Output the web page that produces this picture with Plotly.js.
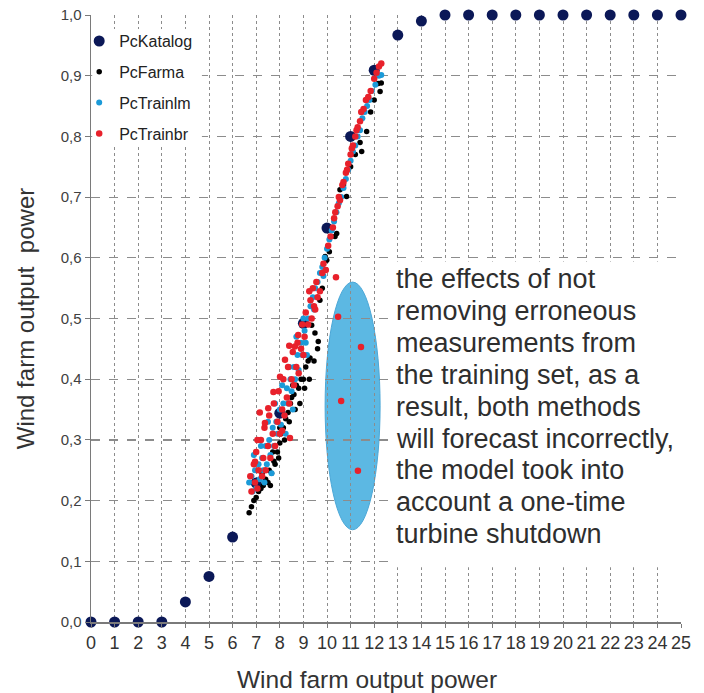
<!DOCTYPE html>
<html>
<head>
<meta charset="utf-8">
<script src="https://cdn.plot.ly/plotly-3.0.1.min.js"></script>
<style>html,body{margin:0;padding:0;background:#fff;}#chart{width:704px;height:693px;}</style>
</head>
<body>
<div id="chart"></div>
<script>
// ---- Data ----
const katalogX = [0,1,2,3,4,5,6,7,8,9,10,11,12,13,14,15,16,17,18,19,20,21,22,23,24,25];
const katalogY = [0,0,0,0,0.033,0.075,0.14,0.229,0.344,0.492,0.649,0.80,0.909,0.967,0.99,1,1,1,1,1,1,1,1,1,1,1];

const farmaX = [6.7,6.8,6.9,7.0,7.1,7.2,7.3,7.4,7.5,7.55,7.65,7.75,7.8,7.9,8.0,8.05,8.15,8.25,8.35,8.45,8.5,8.6,8.7,8.8,8.9,9.0,9.1,9.2,9.28,9.35,9.49,9.63,9.7,9.8,9.92,9.99,10.1,10.34,10.41,10.55,10.7,10.83,11.0,11.2,11.4,11.47,11.68,11.75,11.85,12.0,12.17,12.25,12.3,
  7.25,7.6,7.95,8.2,8.4,8.65,8.85,9.05,9.25,9.45,9.6,8.0,8.55,7.7];
const farmaY = [0.18,0.19,0.20,0.205,0.215,0.22,0.225,0.235,0.23,0.25,0.245,0.265,0.26,0.28,0.295,0.31,0.32,0.335,0.345,0.36,0.37,0.375,0.39,0.385,0.40,0.40,0.42,0.43,0.435,0.489,0.476,0.462,0.53,0.55,0.602,0.596,0.61,0.635,0.64,0.712,0.72,0.701,0.75,0.77,0.79,0.775,0.808,0.865,0.84,0.86,0.887,0.874,0.888,
  0.245,0.225,0.27,0.30,0.33,0.35,0.36,0.385,0.40,0.43,0.45,0.32,0.39,0.28];

const trainlmX = [6.7,6.8,6.85,6.95,7.0,7.1,7.15,7.25,7.3,7.4,7.45,7.55,7.6,7.7,7.75,7.85,7.9,8.0,8.05,8.15,8.2,8.3,8.35,8.45,8.5,8.6,8.65,8.75,8.8,8.9,8.95,9.05,9.1,9.2,9.3,9.4,9.5,9.6,9.7,9.8,9.9,10.0,10.1,10.2,10.3,10.4,10.5,10.6,10.7,10.8,10.9,11.0,11.1,11.2,11.3,11.4,11.5,11.6,11.7,11.8,11.9,12.05,12.2,12.3,
  6.9,7.2,7.35,7.5,7.8,8.1,8.4,8.25,8.55,8.7,9.0,9.15,7.65,9.45,9.85];
const trainlmY = [0.23,0.24,0.215,0.25,0.22,0.26,0.235,0.27,0.25,0.29,0.26,0.30,0.275,0.32,0.29,0.33,0.31,0.35,0.325,0.36,0.34,0.385,0.36,0.40,0.38,0.42,0.40,0.44,0.415,0.46,0.44,0.48,0.46,0.50,0.52,0.535,0.55,0.56,0.575,0.585,0.60,0.615,0.63,0.645,0.66,0.675,0.69,0.70,0.715,0.73,0.745,0.76,0.775,0.785,0.80,0.81,0.83,0.84,0.85,0.86,0.875,0.885,0.90,0.901,
  0.275,0.29,0.23,0.33,0.36,0.39,0.42,0.31,0.35,0.47,0.50,0.44,0.245,0.515,0.57];

const trainbrX = [6.75,6.8,6.9,6.95,7.0,7.05,7.1,7.2,7.25,7.3,7.35,7.4,7.5,7.55,7.6,7.7,7.75,7.8,7.9,7.95,8.0,8.1,8.15,8.2,8.3,8.35,8.4,8.5,8.55,8.6,8.7,8.75,8.8,8.9,8.95,9.0,9.05,9.1,9.2,9.3,9.4,9.45,9.55,9.6,9.7,9.8,9.85,9.95,10.05,10.15,10.25,10.3,10.35,10.45,10.5,10.55,10.65,10.7,10.8,10.85,10.9,11.0,11.05,11.1,11.2,11.25,11.3,11.4,11.45,11.55,11.65,11.75,11.85,12.0,12.1,12.2,12.3,
  6.95,7.37,7.51,7.73,8.01,8.22,8.64,8.78,8.43,7.15,8.4,9.35,9.5,8.1,7.05,9.25,
  10.38,10.47,11.44,10.6,11.31];
const trainbrY = [0.24,0.215,0.26,0.23,0.28,0.22,0.25,0.30,0.24,0.27,0.32,0.25,0.29,0.34,0.27,0.31,0.36,0.29,0.33,0.38,0.31,0.35,0.40,0.34,0.37,0.42,0.36,0.40,0.445,0.39,0.42,0.46,0.41,0.45,0.49,0.44,0.47,0.51,0.49,0.53,0.55,0.52,0.56,0.535,0.545,0.575,0.59,0.58,0.62,0.635,0.65,0.665,0.675,0.685,0.70,0.695,0.72,0.725,0.74,0.745,0.755,0.77,0.78,0.785,0.80,0.81,0.815,0.825,0.84,0.845,0.86,0.865,0.875,0.895,0.905,0.915,0.92,
  0.264,0.328,0.352,0.379,0.404,0.432,0.454,0.473,0.303,0.345,0.455,0.50,0.515,0.315,0.30,0.545,
  0.568,0.503,0.453,0.364,0.249];

const noteLines = [
  "the effects of not",
  "removing erroneous",
  "measurements from",
  "the training set, as a",
  "result, both methods",
  "will forecast incorrectly,",
  "the model took into",
  "account a one-time",
  "turbine shutdown"
];

// ---- Traces ----
const baseFont = "Liberation Sans, Arial, sans-serif";
const traces = [
  {x: katalogX, y: katalogY, name: "PcKatalog", mode: "markers", type: "scatter",
   marker: {color: "#0b1857", size: 11}, cliponaxis: false, legendgroup: "a"},
  {x: farmaX, y: farmaY, name: "PcFarma", mode: "markers", type: "scatter",
   marker: {color: "#000000", size: 5.5}, cliponaxis: false, legendgroup: "b"},
  {x: trainlmX, y: trainlmY, name: "PcTrainlm", mode: "markers", type: "scatter",
   marker: {color: "#1b9ad8", size: 6}, cliponaxis: false, legendgroup: "c"},
  {x: trainbrX, y: trainbrY, name: "PcTrainbr", mode: "markers", type: "scatter",
   marker: {color: "#e8212b", size: 6.5}, cliponaxis: false, legendgroup: "d"}
];

// ---- Annotations: note text lines and x-axis title ----
const annotations = noteLines.map((t, i) => ({
  text: t, xref: "x", yref: "y", x: 12.82, y: (622 - (279 + i * 31.9)) / 607,
  xanchor: "left", yanchor: "middle", showarrow: false,
  font: {family: baseFont, size: 27, color: "#2e2e2e"}
}));
annotations.push({
  text: "Wind farm output power", xref: "paper", yref: "paper",
  x: (367 - 91) / 590, y: -(688 - 622) / 607, xanchor: "center", yanchor: "bottom",
  yshift: -7, showarrow: false,
  font: {family: baseFont, size: 24.5, color: "#333333"}
});

const layout = {
  width: 704, height: 693,
  margin: {l: 91, r: 23, t: 15, b: 71},
  paper_bgcolor: "#ffffff", plot_bgcolor: "#ffffff",
  separators: ", ",
  font: {family: baseFont, color: "#333333"},
  showlegend: true,
  legend: {
    x: -0.02, xanchor: "left", y: 0.985, yanchor: "top",
    bgcolor: "rgba(0,0,0,0)", borderwidth: 0,
    font: {family: baseFont, size: 16, color: "#222222"},
    traceorder: "grouped", tracegroupgap: 7, itemwidth: 30
  },
  xaxis: {
    range: [0, 25], tick0: 0, dtick: 1, fixedrange: true,
    showgrid: true, gridcolor: "#8c8c8c", gridwidth: 1, griddash: "dot",
    zeroline: false, showline: true, linecolor: "#7a7a7a", linewidth: 1.5,
    ticks: "outside", ticklen: 4, tickcolor: "#7a7a7a",
    tickfont: {family: "Liberation Sans Narrow, Arial Narrow, Liberation Sans, Arial", size: 18, color: "#333333"}
  },
  yaxis: {
    range: [0, 1], tick0: 0, dtick: 0.1, tickformat: ".1f", fixedrange: true,
    showgrid: true, gridcolor: "#8c8c8c", gridwidth: 1.2, griddash: "dash",
    zeroline: false, showline: true, linecolor: "#7a7a7a", linewidth: 1.5,
    ticks: "outside", ticklen: 5, tickcolor: "#7a7a7a",
    tickfont: {family: baseFont, size: 15, color: "#404040"},
    title: {text: "Wind farm output  power", font: {family: baseFont, size: 24, color: "#333333"}, standoff: 19}
  },
  shapes: [
    {type: "circle", xref: "x", yref: "y", x0: 9.92, x1: 12.25, y0: 0.152, y1: 0.56,
     fillcolor: "#5cb8e3", line: {color: "#4ba7d7", width: 1}, layer: "below"},
    {type: "rect", xref: "x", yref: "y", x0: 0.05, x1: 4.7, y0: 0.786, y1: 0.977,
     fillcolor: "#ffffff", line: {width: 0}, layer: "between"},
    {type: "rect", xref: "x", yref: "y", x0: 12.72, x1: 25.4, y0: 0.09, y1: 0.594,
     fillcolor: "#ffffff", line: {width: 0}, layer: "between"}
  ],
  annotations: annotations
};

Plotly.newPlot("chart", traces, layout, {displayModeBar: false, staticPlot: true});
</script>
</body>
</html>
